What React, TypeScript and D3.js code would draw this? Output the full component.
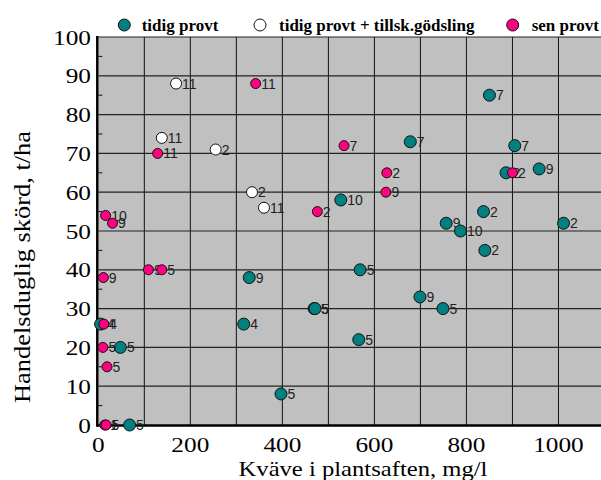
import React from "react";
import * as d3 from "d3";

// tidig provt (teal)
const tidigX = [850, 678, 905, 886, 958, 527, 837, 756, 787, 1011, 840, 569, 699, 469, 471, 749, 566, 328, 316, 48, 397, 68, 5];
const tidigY = [85, 73, 72, 65, 66, 58, 55, 52, 50, 52, 45, 40, 33, 30, 30, 30, 22, 38, 26, 20, 8, 0, 26];
const tidigLab = ["7", "7", "7", "2", "9", "10", "2", "9", "10", "2", "2", "5", "9", "5", "5", "5", "5", "9", "4", "5", "5", "5", "4"];

// tidig provt + tillsk.gödsling (white)
const tillX = [169, 138, 255, 334, 360];
const tillY = [88, 74, 71, 60, 56];
const tillLab = ["11", "11", "2", "2", "11"];

// sen provt (pink)
const senX = [342, 129, 476, 16, 534, 627, 625, 900, 31, 109, 138, 11, 12, 10, 19, 14, 17];
const senY = [88, 70, 55, 54, 72, 65, 60, 65, 52, 40, 40, 38, 26, 20, 15, 0, 0];
const senLab = ["11", "11", "2", "10", "7", "2", "9", "2", "9", "9", "5", "9", "4", "5", "5", "1", "5"];

const xTicks = [0, 200, 400, 600, 800, 1000];
const yTicks = [0, 10, 20, 30, 40, 50, 60, 70, 80, 90, 100];

const W = 601;
const H = 480;
const TEAL = "#008080";
const PINK = "#ff0080";

export default function App() {
  const x = d3.scaleLinear().domain([0, 1100]).range([98.3, 604.5]);
  const y = d3.scaleLinear().domain([0, 100]).range([425, 37]);
  const serif = "'Liberation Serif', 'Times New Roman', serif";
  const sans = "'Liberation Sans', Arial, sans-serif";

  const vGrid = d3.range(100, 1101, 100);
  const hGrid = d3.range(10, 101, 10);
  const minor = d3.range(5, 100, 10);

  const series = [
    { xs: tidigX, ys: tidigY, labs: tidigLab, fill: TEAL, r: 6 },
    { xs: tillX, ys: tillY, labs: tillLab, fill: "#ffffff", r: 5.5 },
    { xs: senX, ys: senY, labs: senLab, fill: PINK, r: 5 },
  ];

  return (
    <svg width={W} height={H} style={{ position: "absolute", left: 0, top: 0, background: "#fff" }}>
      <rect x={x(0)} y={y(100)} width={W - x(0)} height={y(0) - y(100)} fill="#c0c0c0" />
      {vGrid.map((v) => (
        <line key={"v" + v} x1={x(v)} x2={x(v)} y1={y(100)} y2={y(0)} stroke="#111" strokeWidth={1} />
      ))}
      {hGrid.map((v) => (
        <line key={"h" + v} x1={x(0)} x2={W} y1={y(v)} y2={y(v)} stroke="#222" strokeWidth={1.2} />
      ))}
      {minor.map((v) => (
        <line key={"m" + v} x1={x(0)} x2={x(0) + 4} y1={y(v)} y2={y(v)} stroke="#111" strokeWidth={1} />
      ))}
      <line x1={x(0) - 1} x2={x(0) - 1} y1={y(100) - 1} y2={y(0) + 1.5} stroke="#000" strokeWidth={2.5} />
      <line x1={x(0) - 2} x2={W} y1={y(0) + 0.5} y2={y(0) + 0.5} stroke="#000" strokeWidth={2.5} />

      {yTicks.map((v) => (
        <text key={"yt" + v} x={91} y={y(v)} dy="0.35em" textAnchor="end" style={{ fontFamily: serif }} fontSize={22}
          transform={`translate(91,0) scale(1.15,1) translate(-91,0)`}>
          {v}
        </text>
      ))}
      {xTicks.map((v) => (
        <text key={"xt" + v} x={x(v)} y={452} textAnchor="middle" style={{ fontFamily: serif }} fontSize={22}
          transform={`translate(${x(v)},0) scale(1.15,1) translate(${-x(v)},0)`}>
          {v}
        </text>
      ))}
      <text x={363} y={476} textAnchor="middle" style={{ fontFamily: serif }} fontSize={22}
        transform={`translate(363,0) scale(1.12,1) translate(-363,0)`}>
        Kväve i plantsaften, mg/l
      </text>
      <text transform="translate(30,267) rotate(-90) scale(1.1,1)" textAnchor="middle" style={{ fontFamily: serif }} fontSize={24}>
        Handelsduglig skörd, t/ha
      </text>

      {series.map((s, si) =>
        s.xs.map((xv, i) => (
          <g key={`p${si}-${i}`}>
            <circle cx={x(xv)} cy={y(s.ys[i])} r={s.r} fill={s.fill} stroke="#111" strokeWidth={1} />
            <text x={x(xv) + s.r + 0.5} y={y(s.ys[i])} dy="0.36em" style={{ fontFamily: sans }} fontSize={14} fill="#222">
              {s.labs[i]}
            </text>
          </g>
        ))
      )}

      {/* legend */}
      <g style={{ fontFamily: serif }} fontWeight="bold" fontSize={17}>
        <circle cx={124.3} cy={25} r={6} fill={TEAL} stroke="#111" />
        <text x={141.7} y={31}>tidig provt</text>
        <circle cx={260} cy={25} r={6} fill="#fff" stroke="#111" />
        <text x={279} y={31}>tidig provt + tillsk.gödsling</text>
        <circle cx={512.7} cy={25} r={6} fill={PINK} stroke="#111" />
        <text x={531.7} y={31}>sen provt</text>
      </g>
    </svg>
  );
}
